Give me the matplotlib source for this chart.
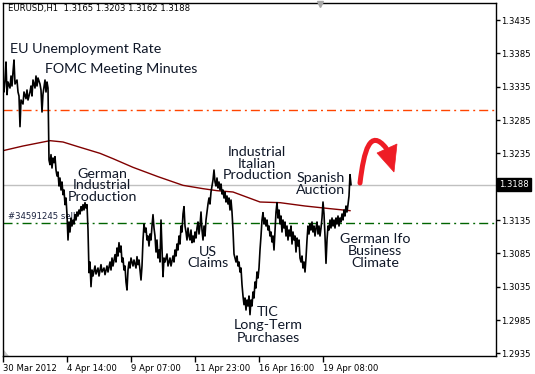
import matplotlib.pyplot as plt
from matplotlib.patches import Polygon, PathPatch
from matplotlib.path import Path

# ---------------------------------------------------------
# Data: EURUSD H1 close path (bar index, price)
# ---------------------------------------------------------
bars_a = [0, 1, 2, 3, 4, 5, 7, 8, 9, 10, 11, 12, 14, 15, 16, 17, 18, 20, 21, 23,
          24, 25, 27, 28, 29, 30, 32, 33, 34, 35, 37, 38, 39, 40, 42, 43, 44, 45, 46]
price_a = [1.3338, 1.3327, 1.3345, 1.3372, 1.3323, 1.3342, 1.3333, 1.3351, 1.3336, 1.3357,
           1.3375, 1.3339, 1.3345, 1.3327, 1.3321, 1.3275, 1.3315, 1.3309, 1.3327, 1.3317,
           1.3330, 1.3315, 1.3327, 1.3336, 1.3321, 1.3345, 1.3333, 1.3351, 1.3336, 1.3348,
           1.3339, 1.3330, 1.3297, 1.3324, 1.3345, 1.3327, 1.3342, 1.3333, 1.3225]

bars_b = list(range(47, 87))
price_b = [1.3218, 1.3233, 1.3213, 1.3228, 1.3221, 1.3230, 1.3210, 1.3201, 1.3207, 1.3186,
           1.3198, 1.3180, 1.3192, 1.3173, 1.3180, 1.3158, 1.3168, 1.3143, 1.3105, 1.3132,
           1.3117, 1.3138, 1.3126, 1.3135, 1.3129, 1.3143, 1.3135, 1.3147, 1.3141, 1.3150,
           1.3144, 1.3155, 1.3149, 1.3158, 1.3150, 1.3161, 1.3153, 1.3158, 1.3120, 1.3056]

bars_c = [87, 88, 89, 90, 92, 93, 95, 96, 98, 99, 101, 102, 104, 105, 107, 108, 109, 110,
          112, 113, 114, 115, 116, 117, 118, 119, 120, 121, 122, 123, 124, 125, 126, 127,
          128, 130, 131, 133, 134, 135, 136, 137, 138, 139, 140, 141, 142, 143, 144, 145,
          146, 147, 148, 149, 150, 151, 152, 153, 154, 155, 156, 157, 158, 159, 160, 161,
          162, 164, 165, 167, 168, 170]
price_c = [1.3072, 1.3035, 1.3060, 1.3051, 1.3066, 1.3054, 1.3063, 1.3051, 1.3068, 1.3057,
           1.3063, 1.3053, 1.3066, 1.3057, 1.3072, 1.3060, 1.3078, 1.3066, 1.3083, 1.3072,
           1.3093, 1.3081, 1.3101, 1.3087, 1.3096, 1.3072, 1.3078, 1.3060, 1.3066, 1.3042,
           1.3030, 1.3060, 1.3072, 1.3063, 1.3078, 1.3066, 1.3075, 1.3063, 1.3080, 1.3068,
           1.3075, 1.3060, 1.3045, 1.3066, 1.3105, 1.3129, 1.3117, 1.3123, 1.3105, 1.3111,
           1.3096, 1.3114, 1.3105, 1.3126, 1.3143, 1.3123, 1.3111, 1.3087, 1.3105, 1.3078,
           1.3090, 1.3072, 1.3135, 1.3090, 1.3050, 1.3078, 1.3072, 1.3084, 1.3066, 1.3078,
           1.3066, 1.3081]

bars_d = list(range(171, 256))
price_d = [1.3072, 1.3090, 1.3081, 1.3099, 1.3090, 1.3111, 1.3099, 1.3126, 1.3117, 1.3144,
           1.3155, 1.3126, 1.3117, 1.3105, 1.3123, 1.3111, 1.3105, 1.3120, 1.3101, 1.3111,
           1.3102, 1.3117, 1.3108, 1.3123, 1.3132, 1.3114, 1.3126, 1.3147, 1.3120, 1.3105,
           1.3126, 1.3111, 1.3135, 1.3147, 1.3159, 1.3168, 1.3159, 1.3177, 1.3186, 1.3195,
           1.3210, 1.3192, 1.3186, 1.3198, 1.3183, 1.3192, 1.3180, 1.3189, 1.3174, 1.3180,
           1.3168, 1.3177, 1.3162, 1.3171, 1.3159, 1.3168, 1.3150, 1.3165, 1.3147, 1.3120,
           1.3084, 1.3078, 1.3072, 1.3081, 1.3066, 1.3072, 1.3057, 1.3063, 1.3038, 1.3021,
           1.3008, 1.3018, 1.3000, 1.3015, 1.3006, 1.3021, 1.2993, 1.3015, 1.3006, 1.3027,
           1.3018, 1.3042, 1.3033, 1.3057, 1.3048]

bars_e = list(range(256, 349))
price_e = [1.3063, 1.3090, 1.3111, 1.3135, 1.3146, 1.3129, 1.3138, 1.3126, 1.3135, 1.3120,
           1.3126, 1.3111, 1.3117, 1.3102, 1.3111, 1.3090, 1.3120, 1.3147, 1.3161, 1.3138,
           1.3150, 1.3129, 1.3141, 1.3117, 1.3135, 1.3123, 1.3132, 1.3111, 1.3126, 1.3105,
           1.3120, 1.3111, 1.3126, 1.3099, 1.3117, 1.3105, 1.3111, 1.3087, 1.3108, 1.3096,
           1.3105, 1.3078, 1.3072, 1.3081, 1.3063, 1.3072, 1.3057, 1.3078, 1.3105, 1.3126,
           1.3114, 1.3129, 1.3120, 1.3132, 1.3117, 1.3126, 1.3111, 1.3123, 1.3132, 1.3114,
           1.3126, 1.3111, 1.3123, 1.3138, 1.3162, 1.3144, 1.3111, 1.3070, 1.3105, 1.3126,
           1.3120, 1.3135, 1.3123, 1.3138, 1.3126, 1.3135, 1.3123, 1.3138, 1.3129, 1.3141,
           1.3126, 1.3138, 1.3132, 1.3144, 1.3135, 1.3150, 1.3141, 1.3156, 1.3147, 1.3158,
           1.3171, 1.3203, 1.3188]

# moving average (dark red)
ma_bars = [0, 20, 47, 60, 75, 97, 110, 130, 155, 180, 200, 214, 230, 257, 277, 302, 327, 347]
ma_vals = [1.3239, 1.3246, 1.3254, 1.3252, 1.3245, 1.3235, 1.3227, 1.3214, 1.3200, 1.3187,
           1.3182, 1.3179, 1.3177, 1.3162, 1.3161, 1.3156, 1.3152, 1.3149]

# horizontal levels
level_orange = 1.3300
level_order = 1.3131
last_price = 1.3188

yticks = [1.2935, 1.2985, 1.3035, 1.3085, 1.3135, 1.3235, 1.3285, 1.3335, 1.3385, 1.3435]
xtick_bars = [0, 64, 128, 192, 256, 320]
xtick_labels = ['30 Mar 2012', '4 Apr 14:00', '9 Apr 07:00', '11 Apr 23:00',
                '16 Apr 16:00', '19 Apr 08:00']

# news labels: (text, bar, price, line spacing)
news = [
    ('German\nIndustrial\nProduction', 99, 1.3187, 0.95),
    ('Industrial\nItalian\nProduction', 254, 1.3219, 0.95),
    ('Spanish\nAuction', 318, 1.3189, 0.95),
    ('German Ifo\nBusiness\nClimate', 372, 1.3089, 1.0),
    ('US\nClaims', 205, 1.3079, 0.95),
    ('TIC\nLong-Term\nPurchases', 265, 1.2978, 1.1),
]

# red arrow (stem bezier + head), in bar/price units
arrow_stem = [(357, 1.31905), (361, 1.3240), (367, 1.3273), (383, 1.3243)]
arrow_head = [(374, 1.32355), (394, 1.3249), (391, 1.3207)]

# ---------------------------------------------------------
# Figure
# ---------------------------------------------------------
fig = plt.figure(figsize=(5.35, 3.74), dpi=100)
ax = fig.add_axes([3 / 535, 18 / 374, 493 / 535, 353 / 374])
ax.set_xlim(0, 493)
ax.set_ylim(1.2931, 1.34605)

for s in ax.spines.values():
    s.set_linewidth(1.0)
    s.set_color('black')

ax.axhline(last_price, color='#c0c0c0', lw=1.0, zorder=1)
ax.axhline(level_orange, color='#ff4500', lw=1.0, dashes=(6.5, 2.9, 1.4, 2.9), zorder=1)
ax.axhline(level_order, color='#006400', lw=1.0, dashes=(6.5, 2.9, 1.4, 2.9), zorder=1)

ax.plot(ma_bars, ma_vals, color='#800000', lw=1.0, zorder=2)

bars = bars_a + bars_b + bars_c + bars_d + bars_e
prices = price_a + price_b + price_c + price_d + price_e
ax.plot(bars, prices, color='black', lw=1.2, zorder=4)

# texts
txt_color = '#101828'
font_ann = 'Lato'
fs_ann = 10.3
ax.text(7, 1.33855, 'EU Unemployment Rate', fontsize=fs_ann, family=font_ann,
        color=txt_color, ha='left', va='baseline', zorder=3)
ax.text(42, 1.33555, 'FOMC Meeting Minutes', fontsize=fs_ann, family=font_ann,
        color=txt_color, ha='left', va='baseline', zorder=3)
for label, xb, yp, ls in news:
    ax.text(xb, yp, label, fontsize=fs_ann, family=font_ann, color=txt_color,
            ha='center', va='center', multialignment='center', linespacing=ls, zorder=3)

ax.text(5, 1.3133, '#34591245 sell', fontsize=6.1, color='#1c2440',
        ha='left', va='bottom', zorder=3)
ax.text(5, 1.34595, 'EURUSD,H1  1.3165 1.3203 1.3162 1.3188', fontsize=6.1,
        color='black', ha='left', va='top', zorder=3)

# curved red arrow
stem = Path(arrow_stem, [Path.MOVETO, Path.CURVE4, Path.CURVE4, Path.CURVE4])
ax.add_patch(PathPatch(stem, fc='none', ec='#ee1c25', lw=3.6, capstyle='round', zorder=5))
ax.add_patch(Polygon(arrow_head, closed=True, fc='#ee1c25', ec='#ee1c25', lw=0.5, zorder=5))

# axis ticks
ax.yaxis.tick_right()
ax.set_yticks(yticks)
ax.set_yticklabels([f'{v:.4f}' for v in yticks], fontsize=6.1)
ax.tick_params(axis='y', length=3, width=1, pad=0.5)
ax.set_xticks(xtick_bars)
ax.set_xticklabels(xtick_labels, fontsize=6.1, ha='left')
ax.tick_params(axis='x', length=4, width=1, pad=2)

# current price box
ax.annotate(f'{last_price:.4f}', xy=(1.0, last_price), xycoords=('axes fraction', 'data'),
            xytext=(2.5, 0), textcoords='offset points', fontsize=6.1, color='white',
            ha='left', va='center',
            bbox=dict(boxstyle='square,pad=0.25', fc='black', ec='black'))

# small grey markers (chart shift / corner)
ax.plot([317], [1.3459], marker='v', color='#a8a8a8', ms=5, clip_on=False, zorder=6)
ax.add_patch(Polygon([[0, 0], [0.012, 0], [0, 0.02]], closed=True, transform=ax.transAxes,
                     fc='#c8c8c8', ec='none'))

fig.savefig('out.png', dpi=100)
